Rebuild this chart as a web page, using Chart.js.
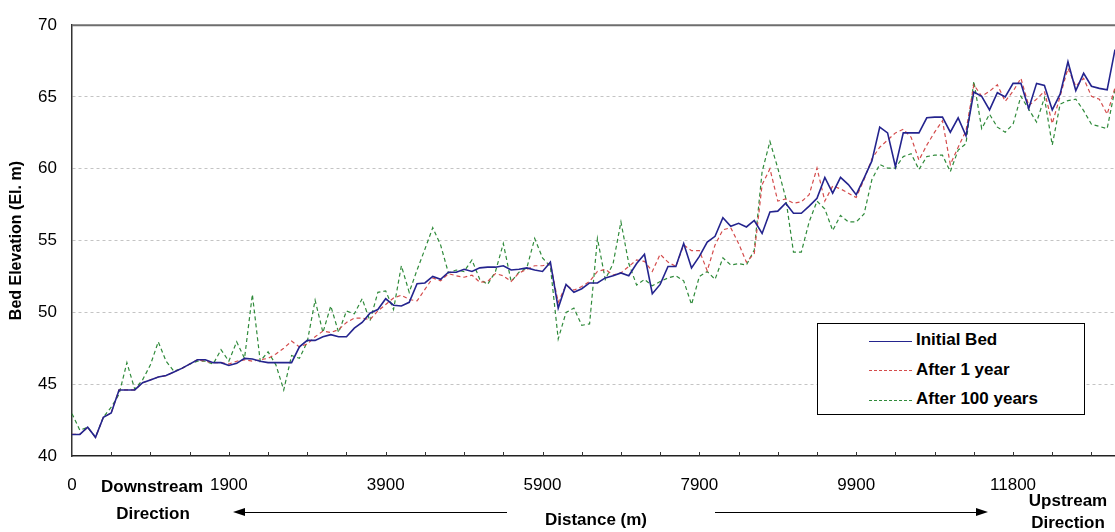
<!DOCTYPE html>
<html>
<head>
<meta charset="utf-8">
<script src="https://cdn.jsdelivr.net/npm/chart.js@4/dist/chart.umd.min.js"></script>
<style>
  html, body { margin: 0; padding: 0; background: #fff; }
  #wrap { position: relative; width: 1115px; height: 532px; overflow: hidden; font-family: Arial, "Liberation Sans", sans-serif; }
  #chart { position: absolute; left: 0; top: 0; }
  .note { position: absolute; transform: translateX(-50%); font-weight: bold; font-size: 17px; line-height: 20px; color: #000; white-space: nowrap; }
  .shaft { position: absolute; height: 0; border-top: 1.5px solid #000; }
  .head { position: absolute; width: 0; height: 0; border-top: 4.5px solid transparent; border-bottom: 4.5px solid transparent; }
  #legend { position: absolute; left: 817px; top: 323px; width: 266px; height: 90px; border: 1px solid #000; background: #fff; }
  #legend .sample { position: absolute; left: 51px; width: 43px; height: 0; }
  #legend .name { position: absolute; left: 98px; font-weight: bold; font-size: 17px; line-height: 20px; white-space: nowrap; }
</style>
</head>
<body>
<div id="wrap">
  <canvas id="chart" width="1115" height="532"></canvas>

  <div class="note" style="left:152px; top:477px;">Downstream</div>
  <div class="note" style="left:153px; top:504px;">Direction</div>
  <div class="head" style="left:233px; top:508px; border-right:12px solid #000;"></div>
  <div class="shaft" style="left:244px; top:512px; width:263px;"></div>

  <div class="note" style="left:596px; top:510px;">Distance (m)</div>

  <div class="shaft" style="left:715px; top:512px; width:262px;"></div>
  <div class="head" style="left:976px; top:508px; border-left:12px solid #000;"></div>
  <div class="note" style="left:1068px; top:491px;">Upstream</div>
  <div class="note" style="left:1068px; top:513px;">Direction</div>

  <div id="legend"></div>
</div>

<script>
// 河床纵断面：每个断面一个值
const initialBed = [
  41.5, 41.5, 42.0, 41.3, 42.7, 43.0, 44.6, 44.6, 44.6, 45.1,
  45.3, 45.5, 45.6, 45.85, 46.1, 46.4, 46.7, 46.7, 46.5, 46.5,
  46.3, 46.45, 46.8, 46.75, 46.6, 46.5, 46.5, 46.5, 46.5, 47.6,
  48.05, 48.05, 48.3, 48.45, 48.3, 48.3, 48.9, 49.3, 49.95, 50.2,
  50.95, 50.5, 50.45, 50.7, 52.0, 52.05, 52.5, 52.3, 52.8, 52.8,
  53.0, 52.85, 53.1, 53.15, 53.15, 53.25, 52.95, 53.0, 53.1, 52.95,
  52.85, 53.5, 50.3, 51.95, 51.4, 51.65, 52.05, 52.05, 52.4, 52.55,
  52.75, 52.55, 53.4, 54.05, 51.3, 51.95, 53.2, 53.2, 54.8, 53.1,
  53.9, 54.9, 55.3, 56.6, 56.0, 56.2, 55.95, 56.4, 55.5, 57.0,
  57.05, 57.6, 56.9, 56.9, 57.4, 57.95, 59.4, 58.3, 59.4, 58.9,
  58.2, 59.35, 60.55, 62.9, 62.5, 60.15, 62.5, 62.5, 62.5, 63.55,
  63.6, 63.6, 62.55, 63.55, 62.3, 65.35, 65.05, 64.1, 65.3, 65.0,
  65.95, 65.95, 64.2, 65.95, 65.8, 64.1, 65.2, 67.45, 65.45, 66.65,
  65.75, 65.6, 65.5, 68.3
];

const after1Year = [
  41.5, 41.5, 42.0, 41.3, 42.7, 43.0, 44.6, 44.6, 44.6, 45.1,
  45.3, 45.5, 45.6, 45.85, 46.1, 46.4, 46.7, 46.6, 46.5, 46.5,
  46.4, 46.6, 46.7, 46.6, 46.7, 46.8, 47.1, 47.5, 48.0, 47.6,
  47.8, 48.3, 48.7, 48.6, 48.8, 49.3, 49.6, 49.6, 49.5, 50.1,
  50.55, 51.0, 51.2, 50.9, 50.8, 51.6, 52.4, 52.2, 52.7, 52.55,
  52.45, 52.6, 52.1, 52.15, 52.7, 52.55, 52.15, 52.75, 53.0, 53.25,
  53.25, 53.4, 50.7, 51.9, 51.55, 51.8, 52.15, 52.85, 53.0, 52.6,
  52.75, 53.2, 53.65, 53.55, 52.85, 54.05, 53.5, 53.2, 54.7, 54.3,
  54.3, 52.9, 54.7, 55.75, 55.9, 54.8, 53.5, 54.1, 58.9, 60.0,
  57.75, 57.9, 57.6, 57.7, 58.2, 60.05, 57.75, 58.8, 58.6, 58.3,
  58.0, 59.25, 60.7, 61.5, 62.0, 62.5, 62.75, 62.2, 60.6, 61.65,
  62.55, 63.35, 60.3, 61.5, 62.65, 65.85, 65.05, 65.4, 65.85, 64.7,
  65.4, 66.3, 64.4, 64.85, 65.4, 63.15, 65.05, 67.0, 65.75, 66.3,
  65.05, 64.85, 63.8, 65.65
];

const after100Years = [
  42.95, 41.8, 42.0, 41.3, 42.7, 43.4, 44.3, 46.5, 44.65, 45.3,
  46.35, 47.95, 46.6, 45.9, 46.1, 46.4, 46.6, 46.6, 46.4, 47.4,
  46.6, 47.95, 46.8, 51.25, 46.6, 47.25, 46.35, 44.6, 47.0, 46.8,
  47.95, 50.85, 48.6, 50.45, 48.6, 50.1, 49.9, 50.95, 49.4, 51.4,
  51.5, 50.2, 53.25, 51.4, 52.95, 54.4, 55.9, 54.7, 52.75, 52.95,
  52.85, 53.65, 52.3, 51.95, 52.85, 54.8, 52.15, 52.8, 53.1, 55.15,
  53.8, 53.2, 48.15, 50.0, 50.3, 49.1, 49.2, 55.15, 52.3, 53.4,
  56.3, 53.4, 51.9, 52.3, 51.85, 52.15, 52.4, 52.55, 52.2, 50.55,
  52.5, 52.85, 52.3, 53.8, 53.3, 53.4, 53.3, 54.35, 59.8, 61.9,
  60.05, 58.0, 54.2, 54.2, 56.3, 57.75, 57.2, 55.7, 56.75, 56.3,
  56.3, 56.85, 59.25, 60.3, 60.05, 60.05, 60.85, 61.05, 59.95, 60.85,
  60.95, 60.95, 59.8, 61.3, 61.75, 66.1, 62.8, 63.8, 62.9, 62.55,
  63.1, 65.05, 64.15, 63.25, 64.95, 61.65, 64.5, 64.75, 64.85, 64.05,
  63.1, 62.95, 62.8, 65.55
];

// x 轴标签：每 20 个断面标一次，每 5 个断面一个刻度
const tickLabels = ['0', '1900', '3900', '5900', '7900', '9900', '11800'];
const labelStep = 20;
const minorTickStep = 5;

const seriesNames = ['Initial Bed', 'After 1 year', 'After 100 years'];
const seriesColors = ['#24248e', '#d44c4c', '#2f8a3a'];
const seriesDash = [[], [4, 3], [4, 3]];
const seriesWidth = [1.6, 1.2, 1.2];

const FONT = 'Arial, "Liberation Sans", sans-serif';

const labels = initialBed.map((_, i) => (i % labelStep === 0 ? (tickLabels[i / labelStep] || '') : ''));

// 图框上边线和 x 轴向内的小刻度
const framePlugin = {
  id: 'frame',
  afterDraw(chart) {
    const { ctx, chartArea: a, scales: { x } } = chart;
    ctx.save();
    ctx.strokeStyle = '#6e6e6e';
    ctx.lineWidth = 2;
    ctx.beginPath();
    ctx.moveTo(a.left, a.top);
    ctx.lineTo(a.right, a.top);
    ctx.stroke();

    ctx.strokeStyle = '#333';
    ctx.lineWidth = 1;
    for (let i = minorTickStep; i < labels.length; i += minorTickStep) {
      const px = Math.round(x.getPixelForValue(i)) + 0.5;
      ctx.beginPath();
      ctx.moveTo(px, a.bottom);
      ctx.lineTo(px, a.bottom - 4);
      ctx.stroke();
    }
    ctx.restore();
  }
};

const datasets = [initialBed, after1Year, after100Years].map((data, i) => ({
  label: seriesNames[i],
  data,
  borderColor: seriesColors[i],
  borderWidth: seriesWidth[i],
  borderDash: seriesDash[i],
  pointRadius: 0,
  tension: 0,
  fill: false
}));

new Chart(document.getElementById('chart'), {
  type: 'line',
  data: { labels, datasets },
  options: {
    responsive: false,
    animation: false,
    devicePixelRatio: 1,
    layout: { padding: { top: 18, right: 0, left: 0, bottom: 0 } },
    plugins: { legend: { display: false }, tooltip: { enabled: false } },
    scales: {
      x: {
        type: 'category',
        offset: false,
        grid: { display: false, drawTicks: false },
        border: { display: true, color: '#222', width: 1.5 },
        ticks: { autoSkip: false, maxRotation: 0, padding: 19, color: '#000', font: { family: FONT, size: 17 } },
        afterFit(s) {
          s.height = 76;
          s.paddingLeft = 0;
          s.paddingRight = 0;
        }
      },
      y: {
        min: 40,
        max: 70,
        ticks: { stepSize: 5, padding: 15, color: '#000', font: { family: FONT, size: 17 } },
        grid: {
          drawTicks: false,
          lineWidth: 1,
          color: c => (c.tick && (c.tick.value === 40 || c.tick.value === 70)) ? 'rgba(0,0,0,0)' : '#c4c4c4'
        },
        border: { display: true, color: '#333', width: 1.5, dash: [3, 3] },
        title: {
          display: true,
          text: 'Bed Elevation (El. m)',
          color: '#000',
          font: { family: FONT, size: 16, weight: 'bold' },
          padding: { top: 7, bottom: 0 }
        },
        afterFit(s) { s.width = 72; }
      }
    }
  },
  plugins: [framePlugin]
});

// 图例（放在图内右下）
const legend = document.getElementById('legend');
const rowLine = [17, 46, 76];
const rowText = [6, 36, 65];
seriesNames.forEach((name, i) => {
  const s = document.createElement('div');
  s.className = 'sample';
  s.style.top = rowLine[i] + 'px';
  s.style.borderTop = (i === 0 ? '1.5px solid ' : '1px dashed ') + seriesColors[i];
  legend.appendChild(s);
  const t = document.createElement('div');
  t.className = 'name';
  t.style.top = rowText[i] + 'px';
  t.textContent = name;
  legend.appendChild(t);
});
</script>
</body>
</html>
